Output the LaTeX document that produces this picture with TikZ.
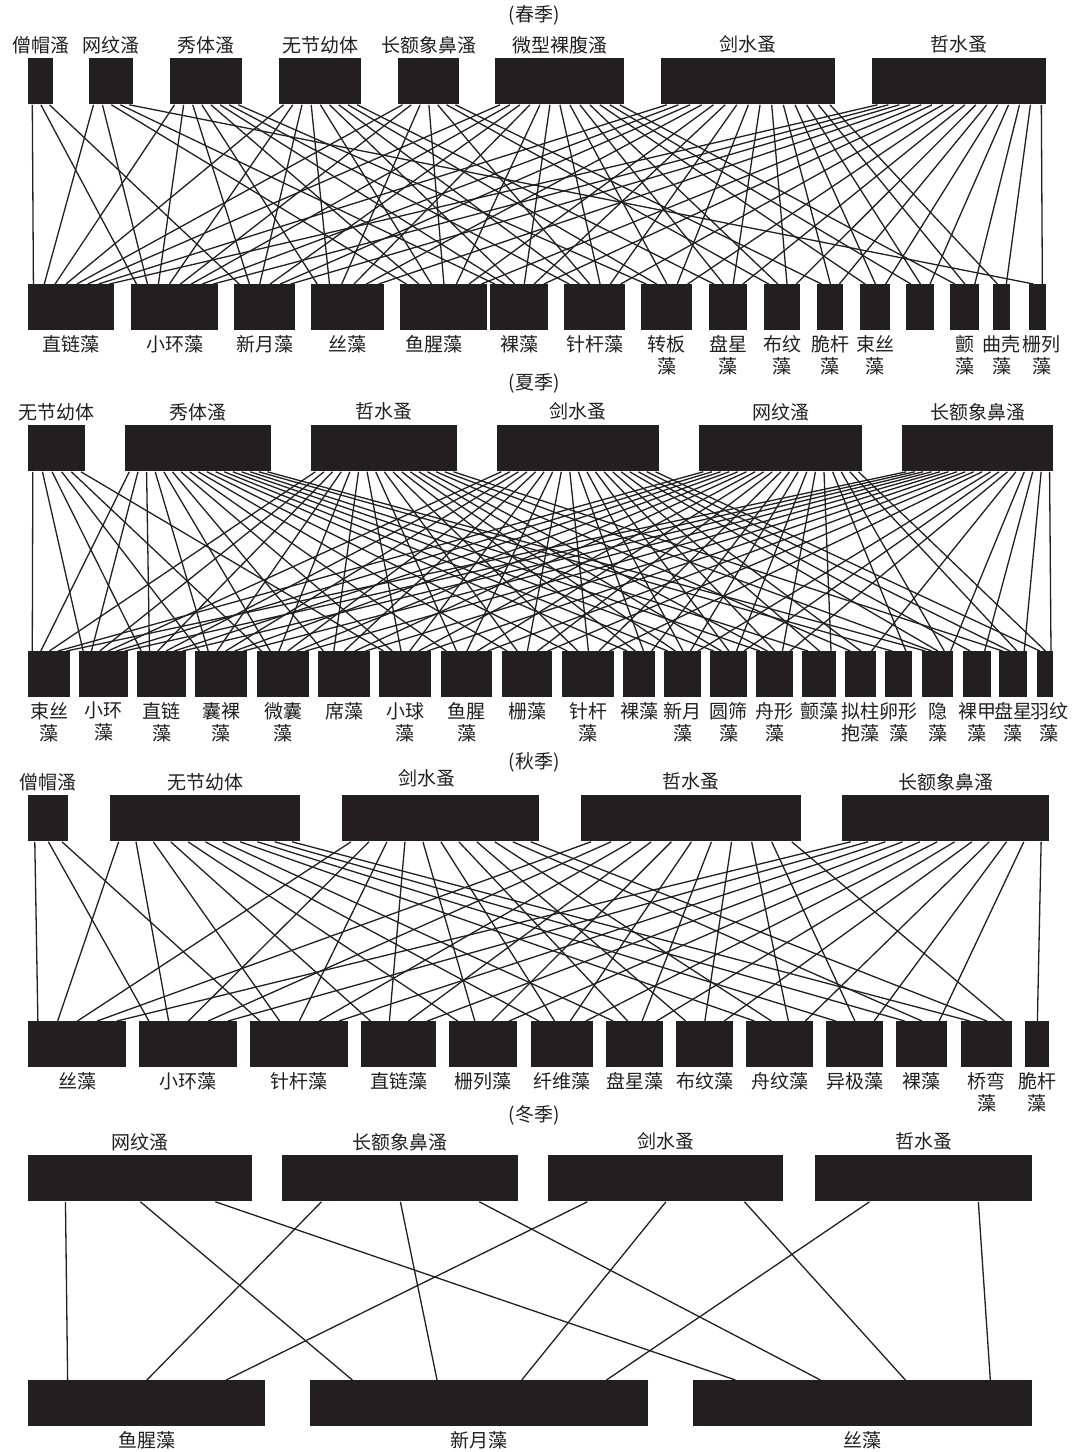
\documentclass[tikz,border=0pt]{standalone}
\usepackage{fontspec}
\newfontfamily\cjk{Noto Sans CJK SC}
\usetikzlibrary{positioning, calc}
\definecolor{webink}{HTML}{231F20}

\newcommand\bump[1]{%
  \ifcsname #1\endcsname
    \pgfmathtruncatemacro\bumpval{\csname #1\endcsname+1}%
  \else
    \def\bumpval{1}%
  \fi
  \expandafter\xdef\csname #1\endcsname{\bumpval}}

\newcommand\foodweb[3]{%
  \foreach \p/\q in {#3}{\bump{n#1\p}\bump{n#2\q}}
  \foreach \p/\q in {#3}{%
    \bump{r#1\p}\bump{r#2\q}%
    \pgfmathsetmacro\ft{(\csname r#1\p\endcsname-0.5)/\csname n#1\p\endcsname}%
    \pgfmathsetmacro\fb{(\csname r#2\q\endcsname-0.5)/\csname n#2\q\endcsname}%
    \draw[lk] ($(#1\p.south west)!\ft!(#1\p.south east)$) -- ($(#2\q.north west)!\fb!(#2\q.north east)$);
  }}

\begin{document}
\begin{tikzpicture}[x=0.5pt, y=-0.5pt, font=\cjk\fontsize{9.5}{11}\selectfont,
  bx/.style={anchor=north west, fill=webink, inner sep=0pt, minimum height=23pt, minimum width=#1*0.5pt},
  lab/.style={inner sep=0.5pt, align=center, text=webink},
  lk/.style={webink, line width=0.65pt}]
\useasboundingbox (0,0) rectangle (1074,1452);

% spring
\node[lab] (spt) at (534,15) {(春季)};
\node[bx=25] (spz1) at (28,58) {};
\node[bx=44] (spz2) at (89,58) {};
\node[bx=72] (spz3) at (170,58) {};
\node[bx=82] (spz4) at (279,58) {};
\node[bx=61] (spz5) at (398,58) {};
\node[bx=129] (spz6) at (495,58) {};
\node[bx=174] (spz7) at (661,58) {};
\node[bx=174] (spz8) at (872,58) {};
\node[lab, above=1.5pt of spz1] (spz1l) {僧帽溞};
\node[lab, above=1.5pt of spz2] (spz2l) {网纹溞};
\node[lab, above=1.5pt of spz3] (spz3l) {秀体溞};
\node[lab, above=1.5pt of spz4] (spz4l) {无节幼体};
\node[lab, above=1.5pt of spz5] (spz5l) {长额象鼻溞};
\node[lab, above=1.5pt of spz6] (spz6l) {微型裸腹溞};
\node[lab, above=1.5pt of spz7] (spz7l) {剑水蚤};
\node[lab, above=1.5pt of spz8] (spz8l) {哲水蚤};
\node[bx=86] (spa1) at (28,284) {};
\node[bx=87] (spa2) at (131,284) {};
\node[bx=61] (spa3) at (234,284) {};
\node[bx=73] (spa4) at (311,284) {};
\node[bx=87] (spa5) at (400,284) {};
\node[bx=58] (spa6) at (490,284) {};
\node[bx=61] (spa7) at (564,284) {};
\node[bx=51] (spa8) at (641,284) {};
\node[bx=38] (spa9) at (709,284) {};
\node[bx=36] (spa10) at (764,284) {};
\node[bx=26] (spa11) at (817,284) {};
\node[bx=30] (spa12) at (860,284) {};
\node[bx=28] (spa13) at (906,284) {};
\node[bx=29] (spa14) at (950,284) {};
\node[bx=17] (spa15) at (993,284) {};
\node[bx=17] (spa16) at (1029,284) {};
\node[lab, below=1.5pt of spa1] (spa1l) {直链藻};
\node[lab, below=1.5pt of spa2] (spa2l) {小环藻};
\node[lab, below=1.5pt of spa3] (spa3l) {新月藻};
\node[lab, below=1.5pt of spa4] (spa4l) {丝藻};
\node[lab, below=1.5pt of spa5, xshift=-5pt] (spa5l) {鱼腥藻};
\node[lab, below=1.5pt of spa6] (spa6l) {裸藻};
\node[lab, below=1.5pt of spa7] (spa7l) {针杆藻};
\node[lab, below=1.5pt of spa8] (spa8l) {转板\\藻};
\node[lab, below=1.5pt of spa9] (spa9l) {盘星\\藻};
\node[lab, below=1.5pt of spa10] (spa10l) {布纹\\藻};
\node[lab, below=1.5pt of spa11] (spa11l) {脆杆\\藻};
\node[lab, below=1.5pt of spa12] (spa12l) {束丝\\藻};
\node[lab, below=1.5pt of spa14] (spa14l) {颤\\藻};
\node[lab, below=1.5pt of spa15] (spa15l) {曲壳\\藻};
\node[lab, below=1.5pt of spa16, xshift=2pt] (spa16l) {栅列\\藻};
\foodweb{spz}{spa}{1/1,1/2,1/3,
  2/1,2/2,2/5,2/6,2/16,
  3/1,3/2,3/3,3/4,3/5,3/6,3/7,3/8,
  4/1,4/2,4/3,4/4,4/5,4/6,4/7,4/8,4/9,
  5/1,5/2,5/4,5/5,5/7,5/10,5/11,
  6/1,6/2,6/3,6/4,6/5,6/6,6/7,6/8,6/9,6/10,6/12,6/13,6/14,
  7/1,7/2,7/3,7/4,7/5,7/6,7/7,7/8,7/9,7/10,7/11,7/12,7/13,7/14,7/15,
  8/1,8/2,8/3,8/4,8/5,8/6,8/7,8/8,8/9,8/10,8/11,8/12,8/13,8/14,8/15,8/16}

% summer
\node[lab] (sut) at (534,383) {(夏季)};
\node[bx=57] (suz1) at (28,425) {};
\node[bx=146] (suz2) at (125,425) {};
\node[bx=146] (suz3) at (311,425) {};
\node[bx=162] (suz4) at (497,425) {};
\node[bx=163] (suz5) at (699,425) {};
\node[bx=151] (suz6) at (902,425) {};
\node[lab, above=1.5pt of suz1] (suz1l) {无节幼体};
\node[lab, above=1.5pt of suz2] (suz2l) {秀体溞};
\node[lab, above=1.5pt of suz3] (suz3l) {哲水蚤};
\node[lab, above=1.5pt of suz4] (suz4l) {剑水蚤};
\node[lab, above=1.5pt of suz5] (suz5l) {网纹溞};
\node[lab, above=1.5pt of suz6] (suz6l) {长额象鼻溞};
\node[bx=42] (sua1) at (28,651) {};
\node[bx=49] (sua2) at (79,651) {};
\node[bx=49] (sua3) at (137,651) {};
\node[bx=52] (sua4) at (195,651) {};
\node[bx=52] (sua5) at (257,651) {};
\node[bx=52] (sua6) at (318,651) {};
\node[bx=52] (sua7) at (379,651) {};
\node[bx=51] (sua8) at (441,651) {};
\node[bx=50] (sua9) at (502,651) {};
\node[bx=52] (sua10) at (562,651) {};
\node[bx=32] (sua11) at (623,651) {};
\node[bx=37] (sua12) at (664,651) {};
\node[bx=37] (sua13) at (710,651) {};
\node[bx=37] (sua14) at (756,651) {};
\node[bx=34] (sua15) at (802,651) {};
\node[bx=31] (sua16) at (845,651) {};
\node[bx=27] (sua17) at (885,651) {};
\node[bx=31] (sua18) at (922,651) {};
\node[bx=28] (sua19) at (963,651) {};
\node[bx=28] (sua20) at (999,651) {};
\node[bx=16] (sua21) at (1037,651) {};
\node[lab, below=1.5pt of sua1] (sua1l) {束丝\\藻};
\node[lab, below=1.5pt of sua2] (sua2l) {小环\\藻};
\node[lab, below=1.5pt of sua3] (sua3l) {直链\\藻};
\node[lab, below=1.5pt of sua4] (sua4l) {囊裸\\藻};
\node[lab, below=1.5pt of sua5] (sua5l) {微囊\\藻};
\node[lab, below=1.5pt of sua6] (sua6l) {席藻};
\node[lab, below=1.5pt of sua7] (sua7l) {小球\\藻};
\node[lab, below=1.5pt of sua8] (sua8l) {鱼腥\\藻};
\node[lab, below=1.5pt of sua9] (sua9l) {栅藻};
\node[lab, below=1.5pt of sua10] (sua10l) {针杆\\藻};
\node[lab, below=1.5pt of sua11] (sua11l) {裸藻};
\node[lab, below=1.5pt of sua12] (sua12l) {新月\\藻};
\node[lab, below=1.5pt of sua13] (sua13l) {圆筛\\藻};
\node[lab, below=1.5pt of sua14] (sua14l) {舟形\\藻};
\node[lab, below=1.5pt of sua15] (sua15l) {颤藻};
\node[lab, below=1.5pt of sua16] (sua16l) {拟柱\\抱藻};
\node[lab, below=1.5pt of sua17] (sua17l) {卵形\\藻};
\node[lab, below=1.5pt of sua18] (sua18l) {隐\\藻};
\node[lab, below=1.5pt of sua19] (sua19l) {裸甲\\藻};
\node[lab, below=1.5pt of sua20] (sua20l) {盘星\\藻};
\node[lab, below=1.5pt of sua21, xshift=2pt] (sua21l) {羽纹\\藻};
\foodweb{suz}{sua}{1/1,1/2,1/3,1/4,1/5,1/7,
  2/1,2/2,2/3,2/4,2/5,2/6,2/7,2/8,2/9,2/10,2/11,2/12,2/13,2/14,2/15,2/17,2/18,
  3/1,3/2,3/3,3/4,3/5,3/6,3/7,3/8,3/9,3/10,3/11,3/12,3/13,3/14,3/16,3/18,3/20,
  4/2,4/3,4/4,4/5,4/6,4/7,4/8,4/9,4/10,4/11,4/12,4/13,4/14,4/15,4/16,4/18,4/19,4/20,4/21,
  5/1,5/2,5/3,5/4,5/5,5/6,5/7,5/8,5/9,5/10,5/11,5/12,5/13,5/14,5/15,5/17,5/18,5/20,5/21,
  6/1,6/2,6/3,6/4,6/5,6/6,6/7,6/8,6/9,6/10,6/12,6/13,6/14,6/16,6/18,6/19,6/20,6/21}

% autumn
\node[lab] (aut) at (534,762) {(秋季)};
\node[bx=40] (auz1) at (28,795) {};
\node[bx=190] (auz2) at (110,795) {};
\node[bx=197] (auz3) at (342,795) {};
\node[bx=220] (auz4) at (581,795) {};
\node[bx=207] (auz5) at (842,795) {};
\node[lab, above=1.5pt of auz1] (auz1l) {僧帽溞};
\node[lab, above=1.5pt of auz2] (auz2l) {无节幼体};
\node[lab, above=3pt of auz3, xshift=-7pt] (auz3l) {剑水蚤};
\node[lab, above=1.5pt of auz4] (auz4l) {哲水蚤};
\node[lab, above=1.5pt of auz5] (auz5l) {长额象鼻溞};
\node[bx=98] (aua1) at (28,1021) {};
\node[bx=98] (aua2) at (139,1021) {};
\node[bx=98] (aua3) at (250,1021) {};
\node[bx=75] (aua4) at (361,1021) {};
\node[bx=68] (aua5) at (449,1021) {};
\node[bx=62] (aua6) at (531,1021) {};
\node[bx=57] (aua7) at (606,1021) {};
\node[bx=57] (aua8) at (676,1021) {};
\node[bx=67] (aua9) at (746,1021) {};
\node[bx=57] (aua10) at (826,1021) {};
\node[bx=51] (aua11) at (896,1021) {};
\node[bx=51] (aua12) at (961,1021) {};
\node[bx=24] (aua13) at (1025,1021) {};
\node[lab, below=1.5pt of aua1] (aua1l) {丝藻};
\node[lab, below=1.5pt of aua2] (aua2l) {小环藻};
\node[lab, below=1.5pt of aua3] (aua3l) {针杆藻};
\node[lab, below=1.5pt of aua4] (aua4l) {直链藻};
\node[lab, below=1.5pt of aua5] (aua5l) {栅列藻};
\node[lab, below=1.5pt of aua6] (aua6l) {纤维藻};
\node[lab, below=1.5pt of aua7] (aua7l) {盘星藻};
\node[lab, below=1.5pt of aua8] (aua8l) {布纹藻};
\node[lab, below=1.5pt of aua9] (aua9l) {舟纹藻};
\node[lab, below=1.5pt of aua10] (aua10l) {异极藻};
\node[lab, below=1.5pt of aua11] (aua11l) {裸藻};
\node[lab, below=1.5pt of aua12] (aua12l) {桥弯\\藻};
\node[lab, below=1.5pt of aua13] (aua13l) {脆杆\\藻};
\foodweb{auz}{aua}{1/1,1/2,1/3,
  2/1,2/2,2/3,2/4,2/5,2/6,2/7,2/9,2/10,2/11,2/12,
  3/1,3/2,3/3,3/4,3/5,3/6,3/7,3/8,3/9,3/11,3/12,
  4/1,4/2,4/3,4/4,4/5,4/6,4/7,4/8,4/9,4/10,4/12,
  5/1,5/2,5/3,5/4,5/5,5/6,5/7,5/8,5/9,5/10,5/11,5/13}

% winter
\node[lab] (wit) at (534,1115) {(冬季)};
\node[bx=224] (wiz1) at (28,1155) {};
\node[bx=236] (wiz2) at (282,1155) {};
\node[bx=235] (wiz3) at (548,1155) {};
\node[bx=217] (wiz4) at (815,1155) {};
\node[lab, above=1.5pt of wiz1] (wiz1l) {网纹溞};
\node[lab, above=1.5pt of wiz2] (wiz2l) {长额象鼻溞};
\node[lab, above=1.5pt of wiz3] (wiz3l) {剑水蚤};
\node[lab, above=1.5pt of wiz4] (wiz4l) {哲水蚤};
\node[bx=237] (wia1) at (28,1380) {};
\node[bx=338] (wia2) at (310,1380) {};
\node[bx=339] (wia3) at (693,1380) {};
\node[lab, below=1.5pt of wia1] (wia1l) {鱼腥藻};
\node[lab, below=1.5pt of wia2] (wia2l) {新月藻};
\node[lab, below=1.5pt of wia3] (wia3l) {丝藻};
\foodweb{wiz}{wia}{1/1,1/2,1/3,2/1,2/2,2/3,3/1,3/2,3/3,4/2,4/3}
\end{tikzpicture}
\end{document}
